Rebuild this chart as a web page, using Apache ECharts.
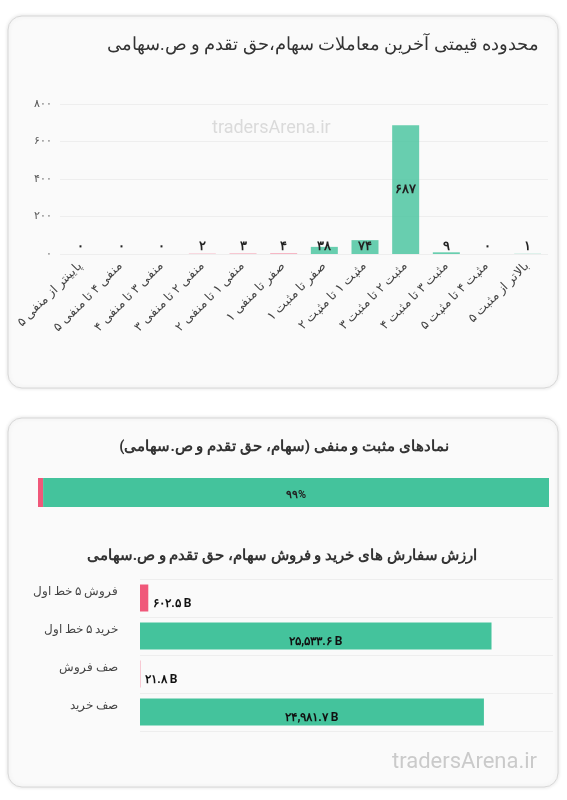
<!DOCTYPE html>
<html><head><meta charset="utf-8">
<script src="https://cdn.jsdelivr.net/npm/echarts@6/dist/echarts.min.js"></script>
<style>html,body{margin:0;padding:0;background:#fff}#c{width:567px;height:800px}</style>
</head><body><div id="c"></div>
<script>
const rangeCats = ['پایینتر از منفی 5','منفی 4 تا منفی 5','منفی 3 تا منفی 4','منفی 2 تا منفی 3','منفی 1 تا منفی 2','صفر تا منفی 1','صفر تا مثبت 1','مثبت 1 تا مثبت 2','مثبت 2 تا مثبت 3','مثبت 3 تا مثبت 4','مثبت 4 تا مثبت 5','بالاتر از مثبت 5'];
const rangeVals = [0,0,0,2,3,4,38,74,687,9,0,1];
const rangeNeg = [true,true,true,true,true,true,false,false,false,false,false,false];
const yTicks = [0,200,400,600,800];
const posNegPct = [1,99];
const orderCats = ['فروش 5 خط اول','خرید 5 خط اول','صف فروش','صف خرید'];
const orderVals = [602.5,25533.6,21.8,24981.7];
const orderNeg = [true,false,true,false];

const fa = s => String(s).replace(/\d/g, d => '۰۱۲۳۴۵۶۷۸۹'[d]);
const fmtNum = v => fa(v.toLocaleString('en-US',{minimumFractionDigits:1,maximumFractionDigits:1}));
const F = 'Roboto, "Noto Sans", sans-serif';
const GREEN='#44c39c', RED='#f0587a';

const chart = echarts.init(document.getElementById('c'));
chart.setOption({
  animation:false,
  textStyle:{fontFamily:F},
  graphic:[
    {type:'rect',z:-10,shape:{x:8,y:16,width:550,height:372,r:14},style:{fill:'#fafafa',stroke:'#d8d8d8',lineWidth:1,shadowBlur:4,shadowColor:'rgba(0,0,0,0.12)'}},
    {type:'rect',z:-10,shape:{x:8,y:418,width:550,height:369,r:14},style:{fill:'#fafafa',stroke:'#d8d8d8',lineWidth:1,shadowBlur:4,shadowColor:'rgba(0,0,0,0.12)'}},
    {type:'text',style:{x:539,y:46,text:'محدوده قیمتی آخرین معاملات سهام،حق تقدم و ص.سهامی',font:'17.5px '+F,fill:'#333',align:'right',verticalAlign:'middle'}},
    {type:'text',z:5,style:{x:212,y:128,text:'tradersArena.ir',font:'18px '+F,fill:'rgba(180,180,180,0.45)',verticalAlign:'middle'}},
    {type:'text',style:{x:284,y:447,text:'نمادهای مثبت و منفی (سهام، حق تقدم و ص.سهامی)',font:'bold 15px '+F,fill:'#333',align:'center',verticalAlign:'middle'}},
    {type:'text',style:{x:282,y:556,text:'ارزش سفارش های خرید و فروش سهام، حق تقدم و ص.سهامی',font:'bold 15px '+F,fill:'#333',align:'center',verticalAlign:'middle'}},
    {type:'text',style:{x:392,y:762,text:'tradersArena.ir',font:'22px '+F,fill:'rgba(170,170,170,0.6)',verticalAlign:'middle'}}
  ],
  grid:[
    {left:60,right:19,top:104,height:150},
    {left:38,right:18,top:478,height:29},
    {left:140,right:14,top:579,height:152}
  ],
  xAxis:[
    {gridIndex:0,type:'category',data:rangeCats,axisLine:{show:false},axisTick:{show:false},
     axisLabel:{interval:0,rotate:45,fontSize:12.5,color:'#444',margin:10,formatter:fa}},
    {gridIndex:1,type:'value',max:100,show:false},
    {gridIndex:2,type:'value',min:0,max:30000,show:false}
  ],
  yAxis:[
    {gridIndex:0,type:'value',min:0,max:800,interval:200,axisLabel:{fontSize:11,color:'#555',formatter:fa},
     splitLine:{lineStyle:{color:'#eee'}},axisLine:{show:false},axisTick:{show:false}},
    {gridIndex:1,type:'category',data:[''],show:false},
    {gridIndex:2,type:'category',data:orderCats,inverse:true,axisLine:{show:false},axisTick:{show:false},
     axisLabel:{fontSize:11.5,color:'#444',margin:22,verticalAlign:'bottom',formatter:fa},
     splitLine:{show:true,lineStyle:{color:'#eee'}},splitArea:{show:false}}
  ],
  series:[
    {type:'bar',xAxisIndex:0,yAxisIndex:0,barWidth:27,
     data:rangeVals.map((v,i)=>({value:v,itemStyle:{color:rangeNeg[i]?'rgba(240,88,122,0.55)':'rgba(68,195,156,0.8)'},
       label:{show:true,position:v>100?'inside':'insideBottom',offset:v>100?[0,0]:[0,4],formatter:fa(v),color:'#222',fontSize:13,fontWeight:'bold'}}))},
    {type:'bar',xAxisIndex:1,yAxisIndex:1,stack:'p',barWidth:29,data:[posNegPct[0]],itemStyle:{color:RED}},
    {type:'bar',xAxisIndex:1,yAxisIndex:1,stack:'p',barWidth:29,data:[posNegPct[1]],itemStyle:{color:GREEN},
     label:{show:true,position:'inside',offset:[0,3],formatter:p=>fa(p.value)+'%',color:'#222',fontSize:11,fontWeight:'bold'}},
    {type:'bar',xAxisIndex:2,yAxisIndex:2,barWidth:27,
     data:orderVals.map((v,i)=>({value:v,itemStyle:{color:orderNeg[i]?RED:GREEN},
       label:{show:true,position:v>5000?'inside':'right',offset:[0,6],formatter:fmtNum(v)+' B',color:'#111',fontSize:12,fontWeight:'bold'}}))}
  ]
});
</script></body></html>
